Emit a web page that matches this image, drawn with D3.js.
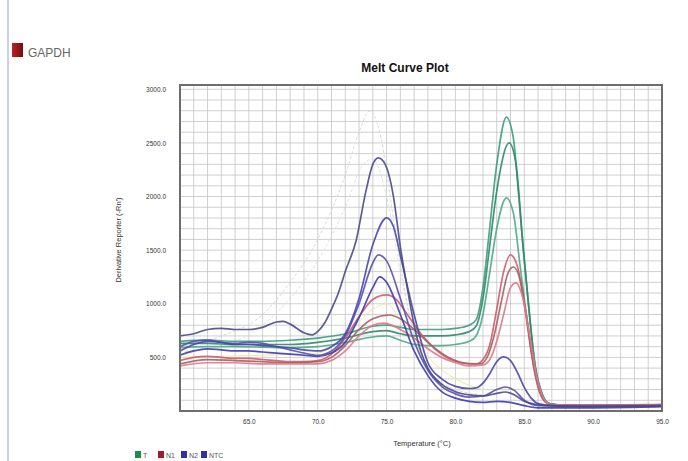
<!DOCTYPE html>
<html><head><meta charset="utf-8">
<script src="https://cdn.jsdelivr.net/npm/d3@7"></script>
<style>body{margin:0;background:#fff}svg{display:block;font-family:"Liberation Sans",Arial,sans-serif}</style>
</head><body>
<svg id="c" width="688" height="461"></svg>
<script>
// ---------- data ----------
const xTicks = [65, 70, 75, 80, 85, 90, 95];
const yTicks = [500, 1000, 1500, 2000, 2500, 3000];
const legendNames = ["T", "N1", "N2", "NTC"];

// faint background curves
const ghost1 = [[60,600],[63,700],[66,900],[68,1200],[70,1600],[72,2200],[73,2600],[73.8,2800],[74.5,2600],[75.5,1800],[76.5,1000],[77.5,500],[78.5,300],[80,200],[82,150]];
const ghost2 = [[60,550],[64,650],[66,800],[68,1050],[70,1400],[72,1900],[73.3,2300],[74,2350],[75,2000],[76,1300],[77,700],[78,400],[80,200],[82,150]];
const ghost3 = [[60,500],[66,520],[70,540],[72,700],[74,950],[75,1000],[76,850],[78,500],[80,300],[82,200]];

// T (green)
const T1 = [[60,650],[62,660],[64,650],[66,650],[68,660],[70,680],[72,720],[74,790],[75,800],[76,780],[77,760],[78,760],[79,760],[80,770],[81,800],[81.5,850],[82,1150],[82.4,1600],[83,2300],[83.7,2740],[84.2,2550],[84.6,2000],[84.9,1550],[85.3,1000],[85.8,400],[86.3,150],[86.8,70],[88,55],[91,55],[95,60]];
const T2 = [[60,630],[62,630],[64,620],[66,620],[68,620],[70,640],[72,680],[74,740],[75,750],[76,720],[77,700],[78,700],[79,700],[80,710],[81,740],[81.5,790],[82,1050],[82.5,1550],[83,2050],[83.9,2500],[84.4,2300],[84.9,1550],[85.3,1000],[85.8,420],[86.3,160],[86.8,70],[88,50],[91,50],[95,55]];
const T3 = [[60,590],[62,600],[64,600],[66,595],[68,590],[70,600],[72,640],[74,690],[75,700],[76,660],[77,620],[78,610],[79,610],[80,620],[81,650],[81.5,700],[82,900],[82.5,1300],[83,1700],[83.7,1987],[84.2,1850],[84.7,1350],[85.2,850],[85.7,400],[86.2,160],[86.8,70],[88,50],[91,50],[95,50]];

// N1 (red)
const N1a = [[60,470],[61,500],[62,510],[63,500],[64,490],[65,490],[66,480],[67,470],[68,460],[69,460],[70,470],[71,530],[72,680],[73,880],[74,1040],[75,1082],[75.7,1040],[76.5,900],[77.5,720],[78.5,580],[79.5,490],[80.5,450],[81.5,440],[82,480],[82.5,620],[83,950],[83.5,1300],[84,1455],[84.5,1350],[85,1000],[85.5,550],[86,220],[86.5,90],[87,60],[90,55],[95,60]];
const N1b = [[60,440],[62,480],[64,470],[66,460],[68,450],[70,460],[71,500],[72,610],[73,760],[74,860],[75.2,895],[76,860],[77,760],[78,640],[79,540],[80,470],[81,440],[81.8,440],[82.3,500],[82.8,700],[83.3,1000],[83.8,1280],[84.2,1343],[84.7,1220],[85.2,850],[85.7,420],[86.2,160],[86.7,70],[87.5,55],[91,50],[95,55]];
const N1c = [[60,420],[62,450],[64,450],[66,440],[68,440],[70,440],[71,470],[72,560],[73,700],[74,800],[74.8,820],[76,760],[77,680],[78,580],[79,500],[80,450],[81,420],[82,430],[82.5,480],[83,650],[83.5,900],[84,1150],[84.4,1194],[84.9,1050],[85.4,700],[85.9,320],[86.4,120],[86.9,60],[89,50],[95,50]];

// N2 / NTC (blue)
const B1 = [[60,700],[61,720],[62,760],[63,770],[64,760],[65,760],[66,780],[67,830],[67.5,835],[68,810],[69,730],[69.6,710],[70,740],[70.5,820],[71,950],[71.5,1100],[72,1300],[72.8,1595],[73.5,2050],[74,2300],[74.4,2360],[74.9,2300],[75.5,2000],[76,1530],[76.5,1150],[77,800],[77.5,550],[78,400],[79,250],[80,180],[81,150],[82,140],[83,165],[83.6,177],[84.3,150],[85,90],[86,60],[87,50],[90,45],[95,50]];
const B2 = [[60,560],[61,620],[62,650],[63,640],[64,620],[65,620],[66,610],[67,600],[68,590],[69,570],[70,560],[71,600],[72,720],[73,1050],[74,1550],[75,1800],[75.5,1720],[76,1450],[77,900],[78,450],[79,300],[80,230],[81,210],[81.5,215],[82,260],[82.5,350],[83,460],[83.5,504],[84,470],[84.5,360],[85,220],[85.5,120],[86,70],[87,50],[90,40],[95,45]];
const B3 = [[60,600],[61,650],[62,660],[63,640],[64,630],[65,640],[66,630],[67,600],[68,570],[69,540],[70,520],[71,560],[72,700],[73,1000],[74,1380],[74.4,1455],[75,1400],[76,1050],[77,650],[78,380],[79,230],[80,160],[81,130],[82,140],[83,200],[83.6,224],[84.3,190],[85,100],[86,50],[90,40],[95,45]];
const B4 = [[60,520],[61,560],[62,580],[63,570],[64,560],[65,560],[66,550],[67,540],[68,530],[69,520],[70,510],[71,540],[72,640],[73,870],[74,1150],[74.5,1250],[75,1200],[76,900],[77,560],[78,330],[79,180],[80,120],[81,90],[82,80],[83,90],[84,80],[85,50],[86,30],[90,30],[95,40]];

// ---------- styles ----------
const ghostStyles = [
  {data: ghost1, color: "#d9d9d9", dash: "3,2"},
  {data: ghost2, color: "#e0e0e0", dash: "3,2"},
  {data: ghost3, color: "#ecec9c", dash: null}
];
const curveStyles = [
  {data: T1, color: "#3c9c7c"}, {data: T2, color: "#2f8a6c"}, {data: T3, color: "#4fa88a"},
  {data: N1a, color: "#d05a6c"}, {data: N1b, color: "#a66060"}, {data: N1c, color: "#e07888"},
  {data: B4, color: "#3c3cae"}, {data: B3, color: "#5a50b0"}, {data: B2, color: "#4848a8"}, {data: B1, color: "#4b4a88"}
];
const legendColors = ["#1f8a4c", "#a01c2c", "#3030a8", "#3030a8"];

// ---------- drawing ----------
const svg = d3.select("#c");
const L = 180, R = 662, T = 85, B = 411;
const x = d3.scaleLinear().domain([60, 95]).range([L, R]);
const y = d3.scaleLinear().domain([0, 3040]).range([B, T]);

// left thin rule
svg.append("line").attr("x1", 8).attr("x2", 8).attr("y1", 0).attr("y2", 461)
  .attr("stroke", "#8f9fd4").attr("stroke-width", 1);

// GAPDH label
const grad = svg.append("defs").append("linearGradient").attr("id", "rg").attr("x1", 0).attr("x2", 1);
grad.append("stop").attr("offset", "0").attr("stop-color", "#c02020");
grad.append("stop").attr("offset", "1").attr("stop-color", "#701010");
svg.append("rect").attr("x", 12).attr("y", 43).attr("width", 11).attr("height", 14).attr("fill", "url(#rg)");
svg.append("text").attr("x", 28).attr("y", 57).attr("font-size", 12).attr("fill", "#666").text("GAPDH");

// title
svg.append("text").attr("x", 405).attr("y", 72).attr("text-anchor", "middle")
  .attr("font-size", 12).attr("font-weight", "bold").attr("fill", "#111").text("Melt Curve Plot");

// grid
const g = svg.append("g");
g.selectAll("line.v").data(d3.range(61, 95, 1)).join("line")
  .attr("x1", d => x(d)).attr("x2", d => x(d)).attr("y1", T).attr("y2", B)
  .attr("stroke", "#c4c4c4").attr("stroke-width", 0.8);
g.selectAll("line.h").data(d3.range(100, 3040, 100)).join("line")
  .attr("x1", L).attr("x2", R).attr("y1", d => y(d)).attr("y2", d => y(d))
  .attr("stroke", "#c4c4c4").attr("stroke-width", 0.8);

// axes
const xAxis = d3.axisBottom(x).tickValues(xTicks).tickSize(0).tickPadding(8).tickFormat(d3.format(".1f"));
const yAxis = d3.axisLeft(y).tickValues(yTicks).tickSize(0).tickPadding(14).tickFormat(d3.format(".1f"));
const gx = svg.append("g").attr("transform", `translate(0,${B})`).call(xAxis);
const gy = svg.append("g").attr("transform", `translate(${L},0)`).call(yAxis);
[gx, gy].forEach(a => {
  a.select(".domain").remove();
  a.selectAll("text").attr("font-size", 6.5).attr("fill", "#333").attr("font-family", "Liberation Sans, Arial, sans-serif");
});

// curves
const line = d3.line().x(d => x(d[0])).y(d => y(d[1])).curve(d3.curveMonotoneX);
const clip = svg.append("clipPath").attr("id", "pc").append("rect")
  .attr("x", L).attr("y", T).attr("width", R - L).attr("height", B - T);
const cg = svg.append("g").attr("clip-path", "url(#pc)");
cg.selectAll("path.ghost").data(ghostStyles).join("path")
  .attr("d", d => line(d.data)).attr("fill", "none").attr("stroke", d => d.color)
  .attr("stroke-width", 1).attr("stroke-dasharray", d => d.dash);
cg.selectAll("path.curve").data(curveStyles).join("path")
  .attr("d", d => line(d.data)).attr("fill", "none").attr("stroke", d => d.color)
  .attr("stroke-width", 1.7).attr("opacity", 0.9);

// frame
svg.append("rect").attr("x", L).attr("y", T).attr("width", R - L).attr("height", B - T)
  .attr("fill", "none").attr("stroke", "#6e6e6e").attr("stroke-width", 2);

// axis titles
svg.append("text").attr("transform", `translate(121,240) rotate(-90)`).attr("text-anchor", "middle")
  .attr("font-size", 7.5).attr("fill", "#333").text("Derivative Reporter (-Rn')");
svg.append("text").attr("x", 422).attr("y", 446).attr("text-anchor", "middle")
  .attr("font-size", 7.5).attr("fill", "#333").text("Temperature (°C)");

// legend
const legendX = [135, 158, 181, 201];
const lg = svg.append("g");
legendNames.forEach((n, i) => {
  lg.append("rect").attr("x", legendX[i]).attr("y", 451).attr("width", 6).attr("height", 7).attr("fill", legendColors[i]);
  lg.append("text").attr("x", legendX[i] + 8).attr("y", 458).attr("font-size", 7).attr("fill", "#555").text(n);
});
</script>
</body></html>
